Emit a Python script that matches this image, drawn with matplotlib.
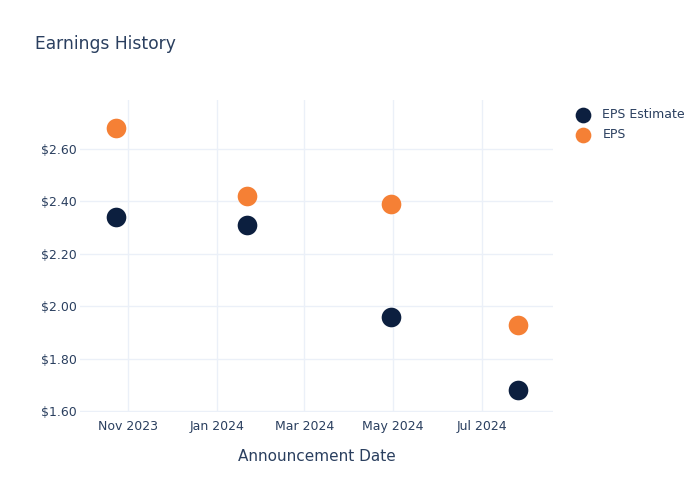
import matplotlib
matplotlib.use("Agg")
import matplotlib.pyplot as plt
import matplotlib.dates as mdates
import numpy as np
import datetime as dt

dates = ["2023-10-24", "2024-01-22", "2024-04-30", "2024-07-26"]
eps_estimate = [2.34, 2.31, 1.96, 1.68]
eps_actual = [2.68, 2.42, 2.39, 1.93]
tick_dates = ["2023-11-01", "2024-01-01", "2024-03-01", "2024-05-01", "2024-07-01"]
tick_labels = ["Nov 2023", "Jan 2024", "Mar 2024", "May 2024", "Jul 2024"]
y_ticks = [1.6, 1.8, 2.0, 2.2, 2.4, 2.6]

TXT = "#2a3f5f"
GRID = "#ebf0f8"
NAVY = "#0c1f3f"
ORANGE = "#f58035"

x = [dt.datetime.fromisoformat(d) for d in dates]

fig = plt.figure(figsize=(7, 5), dpi=100)
ax = fig.add_axes([80/700, 1-412/500, (553-80)/700, (412-100)/500])

ax.scatter(x, eps_estimate, s=200, color=NAVY, label="EPS Estimate", zorder=3, linewidths=0)
ax.scatter(x, eps_actual, s=200, color=ORANGE, label="EPS", zorder=3, linewidths=0)

ax.set_xlim(dt.datetime(2023, 9, 29), dt.datetime(2024, 8, 19))
ax.set_ylim(1.597, 2.787)
ax.set_xticks([dt.datetime.fromisoformat(d) for d in tick_dates])
ax.set_xticklabels(tick_labels)
ax.set_yticks(y_ticks)
ax.set_yticklabels([f"${v:.2f}" for v in y_ticks])

ax.grid(True, color=GRID, linewidth=1)
ax.set_axisbelow(True)
for s in ax.spines.values():
    s.set_visible(False)
ax.tick_params(length=0, colors=TXT, labelsize=9, pad=6)
ax.tick_params(axis="y", pad=2)
ax.set_xlabel("Announcement Date", color=TXT, fontsize=11, labelpad=11)

fig.text(35/700, 1-44/500, "Earnings History", color=TXT, fontsize=12.3, va="center", ha="left")

leg = fig.legend(loc="upper left", bbox_to_anchor=(565/700, 1-103/500), frameon=False,
                 fontsize=9, labelcolor=TXT, handletextpad=0.6, labelspacing=0.55,
                 borderaxespad=0, markerscale=0.8)

fig.savefig("out.png", dpi=100)
